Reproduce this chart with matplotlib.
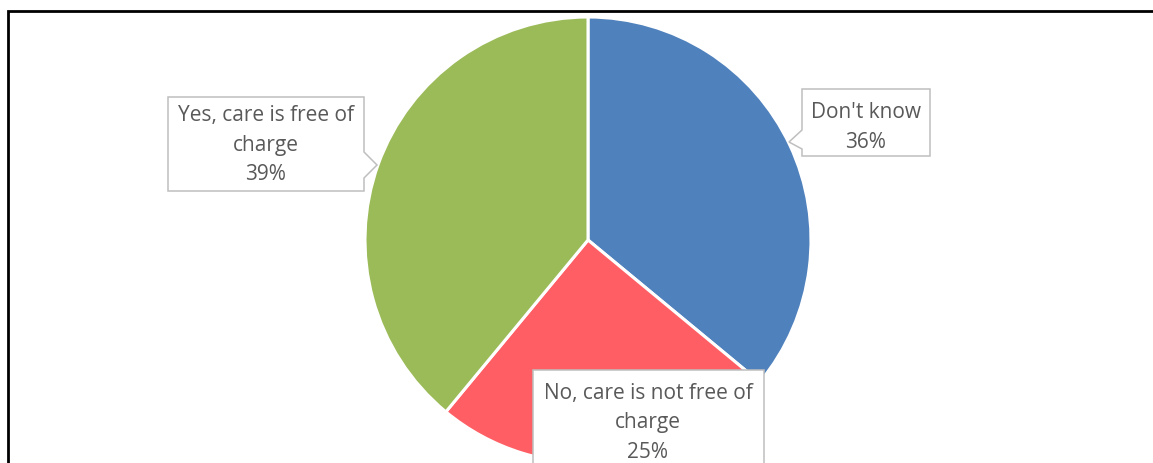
import matplotlib.pyplot as plt
from matplotlib.patches import Polygon

plt.rcParams['font.family'] = ['Open Sans', 'DejaVu Sans']

labels = ["Don't know", "No, care is not free of\ncharge", "Yes, care is free of\ncharge"]
values = [36, 25, 39]
colors = ['#4F81BD', '#FF5F64', '#9BBB59']

W, H = 1153, 463
fig = plt.figure(figsize=(W / 100, H / 100), dpi=100)

# pie axes: centre (588, 240) px, radius 223 px
cx, cy, r = 588, 240, 223
ax = fig.add_axes([(cx - r) / W, (H - cy - r) / H, 2 * r / W, 2 * r / H])
ax.pie(values, colors=colors, startangle=90, counterclock=False, radius=1,
       wedgeprops=dict(edgecolor='white', linewidth=2.2))
ax.set_xlim(-1, 1)
ax.set_ylim(-1, 1)
ax.set_aspect('equal')
ax.axis('off')

# overlay in pixel coordinates for frame and callouts
ov = fig.add_axes([0, 0, 1, 1], zorder=5)
ov.set_xlim(0, W)
ov.set_ylim(H, 0)
ov.axis('off')
ov.patch.set_alpha(0)

# outer frame (right and bottom sides are cut off)
ov.plot([8, 8, W + 5], [H + 5, 11, 11], color='black', lw=2, solid_joinstyle='miter')

# callout boxes: (rect, pointer, text centre x, first line y)
callouts = [
    ((802, 89, 930, 156), [(802, 130), (789, 142), (802, 149)], 866, 113),
    ((533, 370, 764, H + 10), None, 648, 393),
    ((168, 97, 364, 191), [(364, 152), (377, 165), (364, 178)], 266, 116),
]
for (lab, val), (rect, ptr, tx, ty) in zip(zip(labels, values), callouts):
    x0, y0, x1, y1 = rect
    if ptr is None:
        pts = [(x0, y0), (x1, y0), (x1, y1), (x0, y1)]
    elif ptr[1][0] > x1 - 1:
        pts = [(x0, y0), (x1, y0), ptr[0], ptr[1], ptr[2], (x1, y1), (x0, y1)]
    else:
        pts = [(x0, y0), (x1, y0), (x1, y1), (x0, y1), ptr[2], ptr[1], ptr[0]]
    ov.add_patch(Polygon(pts, closed=True, facecolor='white',
                         edgecolor='#BFBFBF', lw=1.1))
    lines = lab.split('\n') + ['%d%%' % val]
    for i, line in enumerate(lines):
        ov.text(tx, ty + i * 29.5, line, ha='center', va='center',
                fontsize=15, color='#595959')

fig.savefig('out.png', dpi=100)
